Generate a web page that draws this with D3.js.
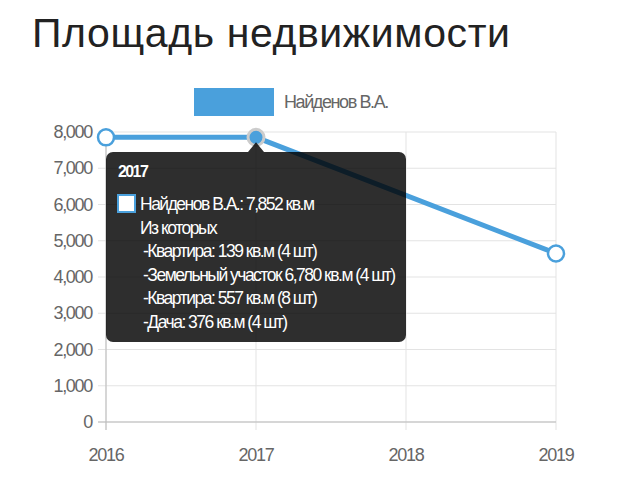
<!DOCTYPE html><html><head><meta charset="utf-8"><script src="https://cdn.jsdelivr.net/npm/d3@7"></script>
<style>body{margin:0;background:#fff;font-family:"Liberation Sans",Arial,sans-serif}</style></head><body>
<svg id="c" width="626" height="503"></svg>
<script>
const years=["2016","2017","2018","2019"];
const values=[7852,7852,null,4650];
const yTicks=[0,1000,2000,3000,4000,5000,6000,7000,8000];
const seriesName="Найденов В.А.";
const tipLines=["Найденов В.А.: 7,852 кв.м","Из которых","-Квартира: 139 кв.м (4 шт)","-Земельный участок 6,780 кв.м (4 шт)","-Квартира: 557 кв.м (8 шт)","-Дача: 376 кв.м (4 шт)"];
const svg=d3.select("#c"),col="#4aa0dc";
const x=d3.scalePoint().domain(years).range([106,556]);
const y=d3.scaleLinear().domain([0,8000]).range([422,132]);
svg.append("text").attr("x",32).attr("y",47).attr("font-size",41).attr("fill","#222").attr("letter-spacing",0.6).text("Площадь недвижимости");
svg.append("rect").attr("x",194).attr("y",88).attr("width",80).attr("height",28).attr("fill",col);
svg.append("text").attr("x",284).attr("y",108).attr("font-size",18).attr("fill","#666").attr("letter-spacing",-1.4).text(seriesName);
const g=svg.append("g");
yTicks.forEach(t=>g.append("line").attr("x1",98).attr("x2",556).attr("y1",y(t)).attr("y2",y(t)).attr("stroke","#e3e3e3"));
years.forEach(d=>g.append("line").attr("x1",x(d)).attr("x2",x(d)).attr("y1",132).attr("y2",430).attr("stroke","#e3e3e3"));
g.append("line").attr("x1",106).attr("x2",106).attr("y1",132).attr("y2",430).attr("stroke","#bbb");
g.append("line").attr("x1",98).attr("x2",556).attr("y1",422).attr("y2",422).attr("stroke","#bbb");
yTicks.forEach(t=>g.append("text").attr("x",92).attr("y",y(t)+6).attr("text-anchor","end").attr("font-size",18).attr("fill","#666").attr("letter-spacing",-1.3).text(d3.format(",")(t)));
years.forEach(d=>g.append("text").attr("x",x(d)).attr("y",461).attr("text-anchor","middle").attr("font-size",18).attr("fill","#666").attr("letter-spacing",-1.3).text(d));
const pts=years.map((d,i)=>({d,v:values[i]})).filter(p=>p.v!=null);
g.append("path").datum(pts).attr("fill","none").attr("stroke",col).attr("stroke-width",5)
 .attr("d",d3.line().x(p=>x(p.d)).y(p=>y(p.v)));
g.selectAll("circle.p").data(pts).join("circle").attr("cx",p=>x(p.d)).attr("cy",p=>y(p.v)).attr("r",8)
 .attr("fill",p=>p.d==="2017"?col:"#fff").attr("stroke",p=>p.d==="2017"?"#ccc":col).attr("stroke-width",p=>p.d==="2017"?3:2.5);
const tx=x("2017"),ty=y(7852);
const t=svg.append("g");
t.append("path").attr("d",`M${tx-8},152 L${tx},${ty+5} L${tx+8},152 Z`).attr("fill","rgba(0,0,0,0.82)");
t.append("rect").attr("x",106).attr("y",152).attr("width",300).attr("height",190).attr("rx",7).attr("fill","rgba(0,0,0,0.82)");
t.append("text").attr("x",118).attr("y",177).attr("font-size",16).attr("font-weight","bold").attr("fill","#fff").attr("letter-spacing",-1.6).text("2017");
t.append("rect").attr("x",118).attr("y",195).attr("width",17).attr("height",17).attr("fill","#fff").attr("stroke",col).attr("stroke-width",2);
tipLines.forEach((s,i)=>t.append("text").attr("x",i<2?140:143).attr("y",210+i*23.5).attr("font-size",17.5).attr("fill","#fff").attr("letter-spacing",-1.5).text(s));
</script></body></html>
